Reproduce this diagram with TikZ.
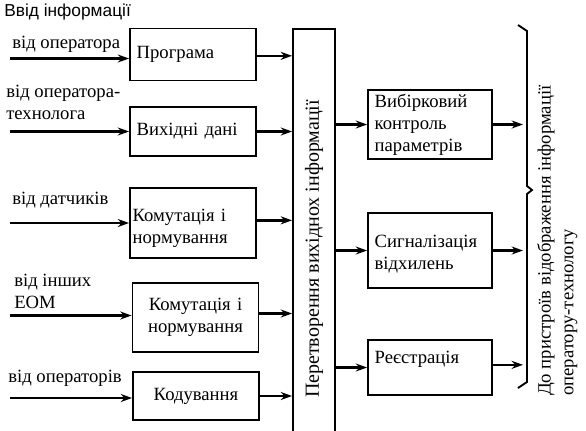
\documentclass[tikz,border=0pt]{standalone}
\usepackage{fontspec}
\setmainfont{Liberation Serif}
\newfontfamily\hdfont{Liberation Sans}
\usetikzlibrary{arrows.meta}
\begin{document}
\begin{tikzpicture}[x=0.75pt,y=-0.75pt,
  box/.style={draw, line width=1.4pt, inner xsep=5pt, inner ysep=2pt, align=left,
    text width=84.5pt, font=\fontsize{14}{16.5}\selectfont},
  lbl/.style={inner sep=0pt, anchor=west, align=left, font=\fontsize{14}{16.5}\selectfont},
  arr/.style={line width=1.9pt, -{Stealth[length=8.5pt,width=6pt]}},
  brc/.style={line width=1.4pt}]
\useasboundingbox (0,0) rectangle (586,430);
% heading
\node[lbl, font=\hdfont\fontsize{13}{15}\selectfont] (head) at (4,12) {Ввід інформації};
% left labels
\node[lbl] (l1) at (12,44) {від оператора};
\node[lbl] (l2) at (6,102) {від оператора-\\технолога};
\node[lbl] (l3) at (12,200) {від датчиків};
\node[lbl] (l4) at (14,291) {від інших\\ЕОМ};
\node[lbl] (l5) at (8,378) {від операторів};
% left boxes
\node[box, minimum height=39pt] (prog) at (193,54.5) {Програма};
\node[box, minimum height=36.75pt] (vyh) at (193,131.5) {Вихідні дані};
\node[box, minimum height=52.5pt, inner xsep=2pt, text width=90.5pt, text depth=12pt] (kom1) at (193,223) {Комутація і\\нормування};
\node[box, minimum height=52pt, align=center] (kom2) at (195.5,317.5) {Комутація і\\нормування};
\node[box, minimum height=36pt, align=center] (kod) at (196,396) {Кодування};
% bus
\node[draw, line width=1.4pt, minimum width=31.5pt, minimum height=330.75pt, inner sep=0pt] (bus) at (314,249.5) {};
\node[rotate=90, font=\fontsize{15}{17}\selectfont, inner sep=0pt] (bustext) at (314,249) {Перетворення вихіднох інформації};
% right boxes
\node[box, minimum height=52pt, text width=83pt] (vib) at (430,124.5) {Вибірковий\\контроль\\параметрів};
\node[box, minimum height=56pt, text width=83pt, text depth=14pt] (sig) at (430,250.5) {Сигналізація\\відхилень};
\node[box, minimum height=41pt, text width=83pt, text depth=16pt] (reg) at (430,367.5) {Реєстрація};
% coordinates
\coordinate (in) at (10,0);
\coordinate (out) at (523,0);
% input arrows
\draw[arr] ([yshift=-3pt]prog.west -| in) -- ([yshift=-3pt]prog.west);
\draw[arr] (vyh.west -| in) -- (vyh.west);
\draw[arr] (kom1.west -| in) -- (kom1.west);
\draw[arr] ([yshift=1.5pt]kom2.west -| in) -- ([yshift=1.5pt]kom2.west);
\draw[arr] ([yshift=-1.5pt]kod.west -| in) -- ([yshift=-1.5pt]kod.west);
% to bus
\draw[arr] ([yshift=-1pt]prog.east) -- ([yshift=-1pt]prog.east -| bus.west);
\draw[arr] (vyh.east) -- (vyh.east -| bus.west);
\draw[arr] ([yshift=2pt]kom1.east) -- ([yshift=2pt]kom1.east -| bus.west);
\draw[arr] ([yshift=3pt]kom2.east) -- ([yshift=3pt]kom2.east -| bus.west);
\draw[arr] (kod.east) -- (kod.east -| bus.west);
% from bus
\draw[arr] (bus.east |- vib.west) -- (vib.west);
\draw[arr] (bus.east |- sig.west) -- (sig.west);
\draw[arr] (bus.east |- reg.west) -- (reg.west);
% to brace
\draw[arr] (vib.east) -- (vib.east -| out);
\draw[arr] (sig.east) -- (sig.east -| out);
\draw[arr] ([yshift=2pt]reg.east) -- ([yshift=2pt]reg.east -| out);
% brace
\coordinate (bt) at (518,25);
\coordinate (bm) at (532,190);
\coordinate (bb) at (518,388);
\draw[brc] (bt) -- (527,31) -- (527,186) -- (bm) -- (527,194) -- (527,382) -- (bb);
% right text
\node[rotate=90, anchor=north west, align=left, inner sep=0pt, font=\fontsize{14}{17}\selectfont] (dest) at (537,396) {До пристроїв відображення інформації\\оператору-технологу};
\end{tikzpicture}
\end{document}
